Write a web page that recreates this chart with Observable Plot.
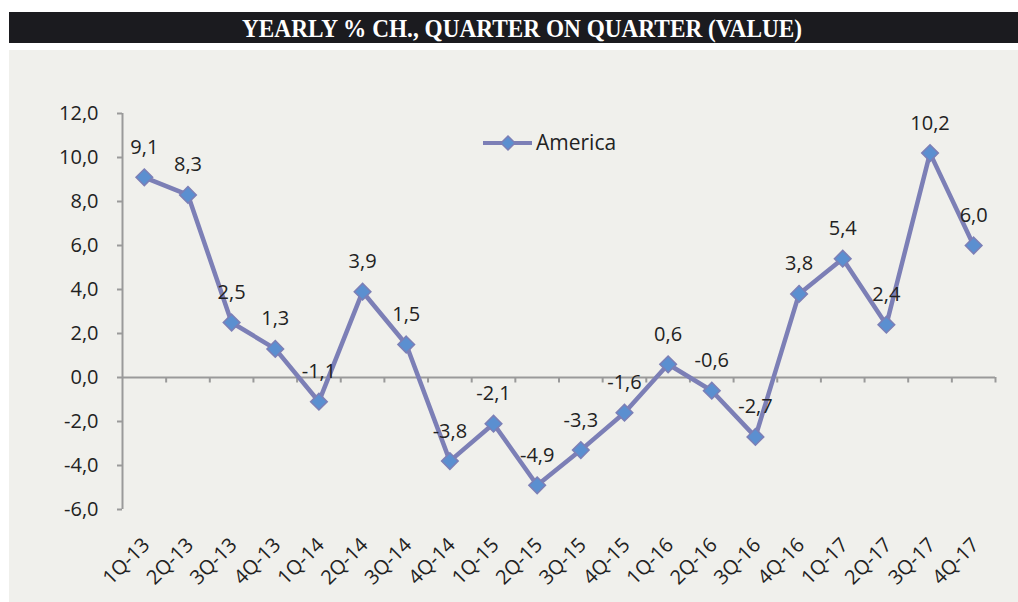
<!DOCTYPE html>
<html>
<head>
<meta charset="utf-8">
<script src="https://cdn.jsdelivr.net/npm/d3@7"></script>
<script src="https://cdn.jsdelivr.net/npm/@observablehq/plot@0.6"></script>
<style>
  html, body { margin: 0; padding: 0; background: #ffffff; width: 1018px; height: 602px; overflow: hidden; }
  #title { position: absolute; left: 9px; top: 12px; width: 1009px; height: 31px; background: #1b1b1f; }
  #panel { position: absolute; left: 9px; top: 50px; width: 1009px; height: 552px; background: #f0f0ec; }
  #legend { position: absolute; left: 470px; top: 128px; }
</style>
</head>
<body>
<div id="title">
  <svg width="1009" height="31">
    <text x="513" y="25" text-anchor="middle" fill="#ffffff" font-family="Liberation Serif" font-weight="bold" font-size="25" textLength="560" lengthAdjust="spacingAndGlyphs">YEARLY % CH., QUARTER ON QUARTER (VALUE)</text>
  </svg>
</div>
<div id="panel"></div>
<div id="legend">
  <svg width="170" height="30">
    <line x1="13" x2="62" y1="15" y2="15" stroke="#7c7fb6" stroke-width="4"></line>
    <path d="M38,8 L45,15 L38,22 L31,15 Z" fill="#5b8fd0" stroke="#7c7fb6" stroke-width="1.5"></path>
    <text x="66" y="22" font-family="Open Sans" font-size="21" fill="#222">America</text>
  </svg>
</div>
<script>
const quarters = ["1Q-13","2Q-13","3Q-13","4Q-13","1Q-14","2Q-14","3Q-14","4Q-14","1Q-15","2Q-15",
                  "3Q-15","4Q-15","1Q-16","2Q-16","3Q-16","4Q-16","1Q-17","2Q-17","3Q-17","4Q-17"];
const america = [9.1, 8.3, 2.5, 1.3, -1.1, 3.9, 1.5, -3.8, -2.1, -4.9,
                 -3.3, -1.6, 0.6, -0.6, -2.7, 3.8, 5.4, 2.4, 10.2, 6.0];
const yTicks = [-6, -4, -2, 0, 2, 4, 6, 8, 10, 12];

const fmt = d => d.toFixed(1).replace(".", ",");
const data = quarters.map((q, i) => ({q, i: i + 0.5, v: america[i]}));
const bounds = d3.range(quarters.length + 1);
const lineColor = "#7c7fb6";

const chart = Plot.plot({
  width: 1009,
  height: 552,
  marginLeft: 113,
  marginRight: 23,
  marginTop: 63,
  marginBottom: 93,
  style: {background: "transparent", fontFamily: "Open Sans", fontSize: "20px", color: "#222"},
  x: {type: "linear", domain: [0, quarters.length]},
  y: {domain: [-6, 12]},
  marks: [
    Plot.ruleX([0], {stroke: "#9a9a9a", strokeWidth: 2}),
    Plot.ruleY([0], {stroke: "#9a9a9a", strokeWidth: 2}),
    Plot.ruleX(bounds.slice(1), {x: d => d, y1: 0, y2: -0.25, stroke: "#9a9a9a", strokeWidth: 2}),
    Plot.axisY({ticks: yTicks, tickFormat: fmt, tickSize: 5, tickPadding: 19, stroke: "#9a9a9a", strokeWidth: 2, fill: "#222", fontSize: 20, label: null}),
    Plot.axisX({ticks: data.map(d => d.i), tickFormat: (d) => quarters[Math.round(d - 0.5)], tickRotate: -45, tickSize: 0, tickPadding: 32, dx: 2, fill: "#222", fontSize: 20, label: null}),
    Plot.line(data, {x: "i", y: "v", stroke: lineColor, strokeWidth: 4.5}),
    Plot.dot(data, {x: "i", y: "v", symbol: "diamond2", r: 7.5, fill: "#5b8fd0", stroke: lineColor, strokeWidth: 1.5}),
    Plot.text(data, {x: "i", y: "v", text: d => fmt(d.v), dy: -30, fill: "#222", fontSize: 20})
  ]
});
document.getElementById("panel").appendChild(chart);
</script>
</body>
</html>
